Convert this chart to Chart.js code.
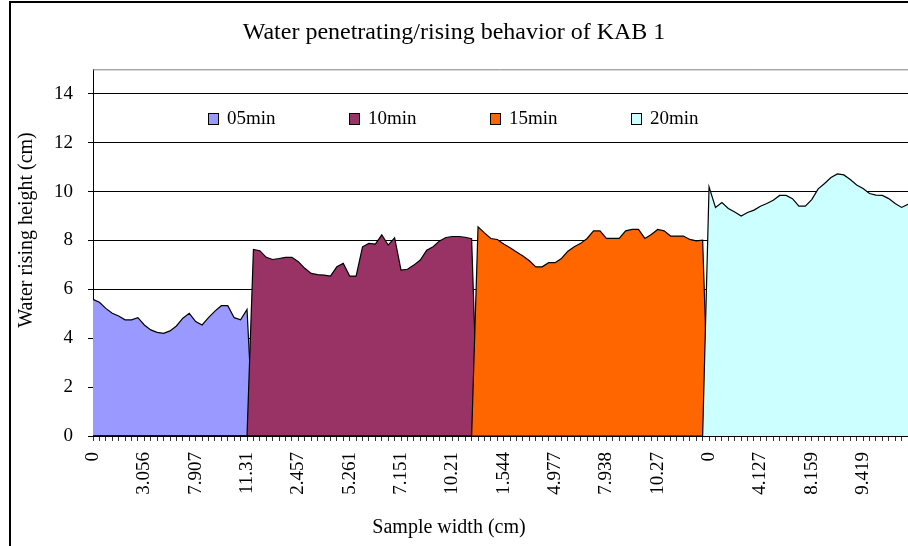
<!DOCTYPE html>
<html lang="en">
<head>
<meta charset="UTF-8">
<title>Water penetrating/rising behavior of KAB 1</title>
<script src="https://cdn.jsdelivr.net/npm/chart.js"></script>
<style>
  html, body { margin: 0; padding: 0; background: #fff; overflow: hidden; }
  canvas { display: block; }
</style>
</head>
<body>
<canvas id="grafico" width="908" height="546"></canvas>

<script>
    // values (cm), one array per time step
    const seriesNames = ["05min", "10min", "15min", "20min"];
    const seriesColors = ["#9999FF", "#993366", "#FF6600", "#CCFFFF"];

    const min05 = [5.59, 5.47, 5.22, 5.02, 4.91, 4.75, 4.75, 4.84, 4.54, 4.34, 4.24, 4.20, 4.30,
        4.50, 4.82, 5.02, 4.68, 4.54, 4.84, 5.11, 5.33, 5.33, 4.84, 4.75, 5.18];
    const min10 = [7.63, 7.58, 7.31, 7.22, 7.26, 7.31, 7.31, 7.13, 6.86, 6.65, 6.60, 6.58, 6.54,
        6.92, 7.06, 6.54, 6.54, 7.74, 7.88, 7.85, 8.23, 7.81, 8.11, 6.79, 6.82, 6.99, 7.20, 7.60,
        7.74, 7.98, 8.12, 8.16, 8.16, 8.13, 8.07];
    const min15 = [8.56, 8.31, 8.08, 8.04, 7.85, 7.70, 7.53, 7.36, 7.17, 6.92, 6.92, 7.09, 7.09,
        7.26, 7.56, 7.74, 7.88, 8.08, 8.39, 8.39, 8.08, 8.08, 8.08, 8.39, 8.45, 8.45, 8.08, 8.24,
        8.45, 8.39, 8.18, 8.18, 8.18, 8.04, 7.98, 8.01];
    const min20 = [10.19, 9.35, 9.55, 9.31, 9.16, 9.00, 9.14, 9.24, 9.40, 9.51, 9.64, 9.84, 9.84,
        9.71, 9.40, 9.40, 9.67, 10.11, 10.33, 10.57, 10.72, 10.68, 10.49, 10.27, 10.12, 9.92, 9.85,
        9.84, 9.71, 9.51, 9.35, 9.48];

    // only every 8th sample width is printed under the axis
    const labelStep = 8;
    const tickLabels = ["0", "3.056", "7.907", "11.31", "2.457", "5.261", "7.151", "10.21",
        "1.544", "4.977", "7.938", "10.27", "0", "4.127", "8.159", "9.419"];

    const yTicks = [0, 2, 4, 6, 8, 10, 12, 14];
    const yMax = 15;

    const titulo = "Water penetrating/rising behavior of KAB 1";
    const tituloX = "Sample width (cm)";
    const tituloY = "Water rising height (cm)";

    const fonte = '"Liberation Serif", "Times New Roman", serif';

    // each series sits one after the other on the same category axis, empty cells = 0
    const todas = [min05, min10, min15, min20];
    const total = todas.reduce((s, a) => s + a.length, 0);
    const labels = Array.from({ length: total }, (_, i) =>
        i % labelStep === 0 ? (tickLabels[i / labelStep] || "") : "");

    let inicio = 0;
    const datasets = todas.map((valores, k) => {
        const dados = new Array(total).fill(0);
        valores.forEach((v, j) => { dados[inicio + j] = v; });
        inicio += valores.length;
        return {
            label: seriesNames[k],
            data: dados,
            backgroundColor: seriesColors[k],
            borderColor: "#000",
            borderWidth: 1.2,
            pointRadius: 0,
            tension: 0,
            fill: "origin",
            order: todas.length - k
        };
    });

    // legend inside the plot, axis titles, outer frame
    const extras = {
        id: "extras",
        afterDraw(chart) {
            const ctx = chart.ctx;
            const a = chart.chartArea;
            ctx.save();

            ctx.strokeStyle = "#808080";
            ctx.lineWidth = 1;
            ctx.beginPath();
            ctx.moveTo(a.left, a.top + 0.5);
            ctx.lineTo(a.right, a.top + 0.5);
            ctx.stroke();

            ctx.strokeStyle = "#000";
            ctx.lineWidth = 2;
            ctx.beginPath();
            ctx.moveTo(10, chart.height);
            ctx.lineTo(10, 2);
            ctx.lineTo(chart.width, 2);
            ctx.stroke();

            ctx.fillStyle = "#000";
            ctx.font = "20px " + fonte;
            ctx.textAlign = "center";
            ctx.textBaseline = "middle";
            ctx.fillText(tituloX, chart.width / 2 - 5, 528);

            ctx.save();
            ctx.translate(27, 230);
            ctx.rotate(-Math.PI / 2);
            ctx.fillText(tituloY, 0, 0);
            ctx.restore();

            // legend
            ctx.font = "19px " + fonte;
            ctx.textAlign = "left";
            ctx.lineWidth = 1;
            const ly = 119;
            chart.data.datasets.forEach((ds, i) => {
                const x = a.left + 115 + i * 141;
                ctx.fillStyle = ds.backgroundColor;
                ctx.fillRect(x + 0.5, ly - 5.5, 10, 11);
                ctx.strokeStyle = "#000";
                ctx.strokeRect(x + 0.5, ly - 5.5, 10, 11);
                ctx.fillStyle = "#000";
                ctx.fillText(ds.label, x + 19, ly);
            });

            ctx.restore();
        }
    };

    new Chart(document.getElementById("grafico"), {
        type: "line",
        data: { labels: labels, datasets: datasets },
        plugins: [extras],
        options: {
            responsive: false,
            animation: false,
            devicePixelRatio: 1,
            layout: { padding: 0 },
            plugins: {
                legend: { display: false },
                tooltip: { enabled: false },
                title: {
                    display: true,
                    text: titulo,
                    color: "#000",
                    font: { family: fonte, size: 24, weight: "normal", lineHeight: 1.2 },
                    padding: { top: 18, bottom: 22.5 }
                }
            },
            scales: {
                x: {
                    type: "category",
                    offset: false,
                    grid: {
                        drawOnChartArea: false,
                        drawTicks: true,
                        tickLength: 5,
                        tickColor: "#333",
                        offset: false
                    },
                    border: { color: "#000", width: 1 },
                    ticks: {
                        autoSkip: false,
                        minRotation: 90,
                        maxRotation: 90,
                        padding: 11,
                        color: "#000",
                        font: { family: fonte, size: 19 }
                    },
                    afterFit(s) {
                        s.height = 110;
                        s.paddingLeft = 0;
                        s.paddingRight = 0;
                    }
                },
                y: {
                    min: 0,
                    max: yMax,
                    grid: { color: "#000", tickColor: "#000", tickLength: 5 },
                    border: { color: "#000", width: 1 },
                    ticks: {
                        stepSize: 2,
                        padding: 15,
                        color: "#000",
                        font: { family: fonte, size: 19 }
                    },
                    afterBuildTicks(s) {
                        s.ticks = yTicks.map(v => ({ value: v }));
                    },
                    afterFit(s) {
                        s.width = 93;
                    }
                }
            }
        }
    });
</script>
</body>
</html>
